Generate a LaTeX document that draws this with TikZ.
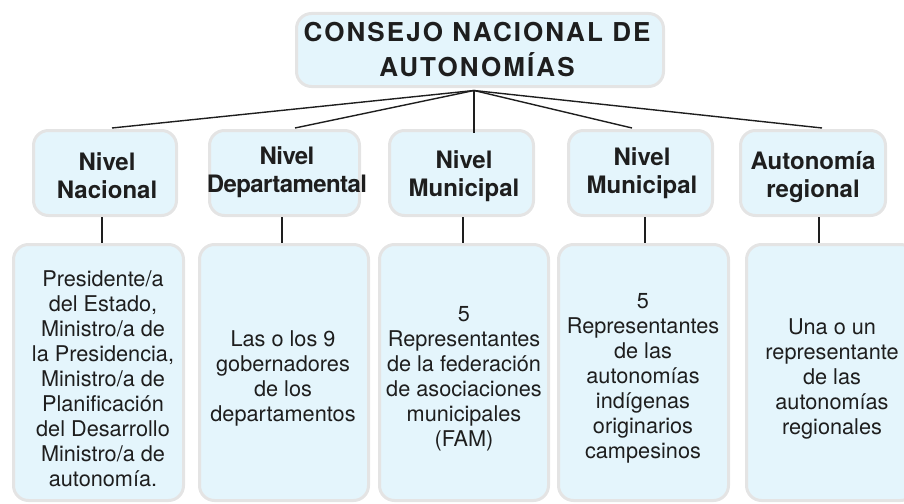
\documentclass[tikz,border=0pt]{standalone}
\usepackage{fontspec}
\setmainfont{TeX Gyre Heros}
\definecolor{boxfill}{HTML}{E4F5FC}
\definecolor{boxline}{HTML}{E4E4E4}
\definecolor{ink}{HTML}{1E1E1E}
\begin{document}
\begin{tikzpicture}[x=1pt,y=-1pt,
  box/.style={draw=boxline, fill=boxfill, line width=3pt, rounded corners=15pt, inner sep=0pt},
  titletext/.style={align=center, text=ink, font=\fontsize{26}{35}\selectfont\bfseries\addfontfeatures{LetterSpace=8}},
  midtext/.style={align=center, text=ink, font=\fontsize{24}{28}\selectfont\bfseries},
  tighttext/.style={midtext, font=\fontsize{24}{28}\selectfont\bfseries\addfontfeatures{LetterSpace=-2.5}},
  lowtext/.style={align=center, text=ink, font=\fontsize{21.7}{25}\selectfont},
  conn/.style={draw=ink, line width=1.4pt}]
\useasboundingbox (0,0) rectangle (904,503);
\clip (0,0) rectangle (904,503);
% boxes
\node[box, minimum width=367pt, minimum height=73pt] (top) at (480,50) {};
\node[box, minimum width=143pt, minimum height=85pt] (m1) at (105,173) {};
\node[box, minimum width=150pt, minimum height=85pt] (m2) at (284.5,173) {};
\node[box, minimum width=144pt, minimum height=85pt] (m3) at (461.5,173) {};
\node[box, minimum width=144pt, minimum height=85pt] (m4) at (640.5,173) {};
\node[box, minimum width=145pt, minimum height=85pt] (m5) at (813,173) {};
\node[box, minimum width=170pt, minimum height=256pt] (b1) at (98.5,372.5) {};
\node[box, minimum width=169pt, minimum height=256pt] (b2) at (284,372.5) {};
\node[box, minimum width=169pt, minimum height=256pt] (b3) at (464,372.5) {};
\node[box, minimum width=170pt, minimum height=256pt] (b4) at (643.5,372.5) {};
\node[box, minimum width=169pt, minimum height=256pt] (b5) at (831,372.5) {};
% texts
\node[titletext] (ttop) at (477,50) {CONSEJO NACIONAL DE\\AUTONOMÍAS};
\node[midtext] (t1) at (107,176) {Nivel\\Nacional};
\node[tighttext] (t2) at (287,172) {Nivel\\Departamental};
\node[midtext] (t3) at (464,176) {Nivel\\Municipal};
\node[midtext] (t4) at (642,173) {Nivel\\Municipal};
\node[midtext] (t5) at (813,177) {Autonomía\\regional};
\node[lowtext] (u1) at (103,379) {Presidente/a\\del Estado,\\Ministro/a de\\la Presidencia,\\Ministro/a de\\Planificación\\del Desarrollo\\Ministro/a de\\autonomía.};
\node[lowtext] (u2) at (283,378) {Las o los 9\\gobernadores\\de los\\departamentos};
\node[lowtext] (u3) at (464,379) {5\\Representantes\\de la federación\\de asociaciones\\municipales\\(FAM)};
\node[lowtext] (u4) at (643,378) {5\\Representantes\\de las\\autonomías\\indígenas\\originarios\\campesinos};
\node[lowtext] (u5) at (832,379) {Una o un\\representante\\de las\\autonomías\\regionales};
% connectors
\coordinate (j) at ([xshift=-6pt, yshift=-2.5pt]top.south);
\draw[conn] (j) -- ([xshift=7pt, yshift=1pt]m1.north);
\draw[conn] (j) -- ([xshift=10.5pt, yshift=1pt]m2.north);
\draw[conn] (j) -- ([xshift=12.5pt, yshift=-4pt]m3.north);
\draw[conn] (j) -- ([xshift=-8.5pt, yshift=1pt]m4.north);
\draw[conn] (j) -- ([xshift=9pt, yshift=1pt]m5.north);
\draw[conn] ([xshift=-3pt]m1.south) -- ([xshift=3.5pt]b1.north);
\draw[conn] ([xshift=-2.5pt]m2.south) -- ([xshift=-2pt]b2.north);
\draw[conn] ([xshift=1.5pt]m3.south) -- ([xshift=-1pt]b3.north);
\draw[conn] ([xshift=4.5pt]m4.south) -- ([xshift=1.5pt]b4.north);
\draw[conn] ([xshift=6pt]m5.south) -- ([xshift=-12pt]b5.north);
\end{tikzpicture}
\end{document}
